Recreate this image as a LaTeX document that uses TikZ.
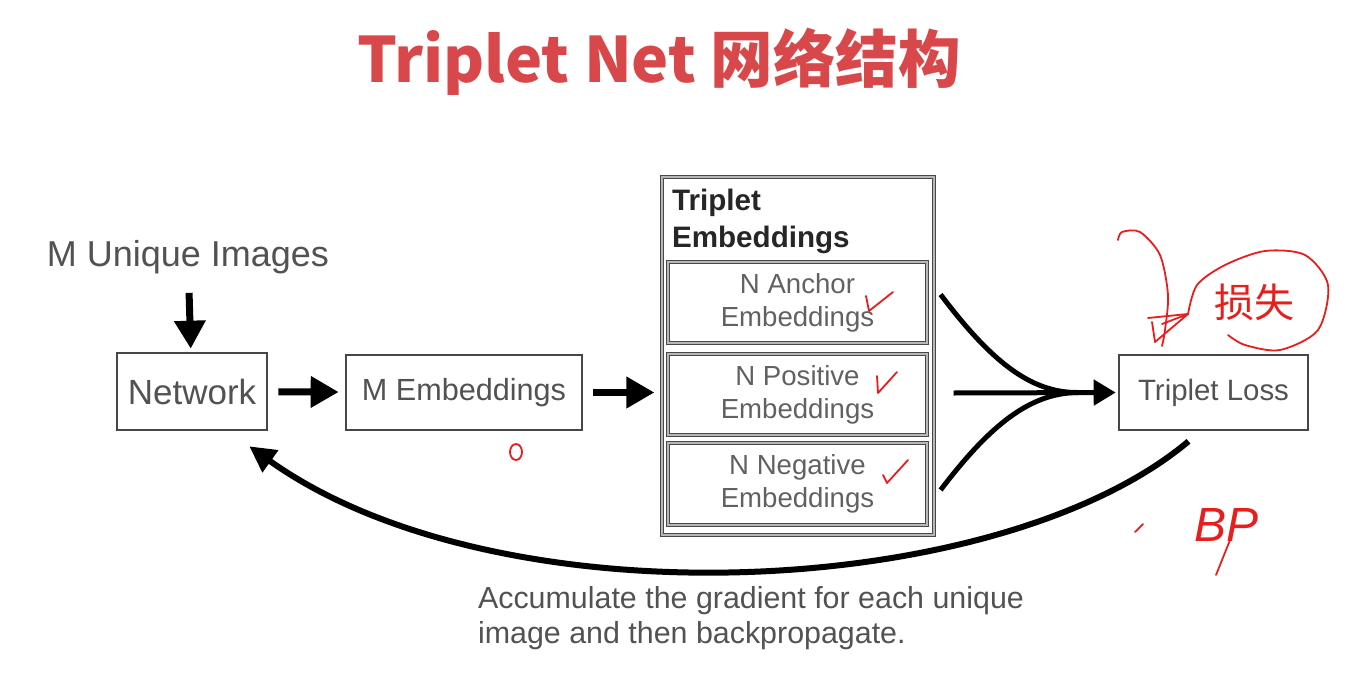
\documentclass[tikz,border=0pt]{standalone}
\usepackage{fontspec}
\setmainfont{Liberation Sans}
\newfontfamily\cjk{Noto Sans CJK SC}
\usetikzlibrary{arrows.meta,calc}
\definecolor{tred}{RGB}{216,72,75}
\definecolor{hred}{RGB}{232,30,28}
\begin{document}
\begin{tikzpicture}[x=0.5pt,y=-0.5pt,
  box/.style={draw=black!72,line width=1.3pt,text=black!68,inner sep=0pt,align=center},
  dbox/.style={draw=black!72,line width=0.6pt,double=black!28,double distance=0.7pt,inner sep=0pt,align=center,text=black!62},
  fat/.style={line width=3.5pt,-{Triangle[length=14pt,width=15pt]}},
  fan/.style={line width=2.5pt},
  hand/.style={hred,line width=0.9pt,line cap=round,line join=round},
  lbl/.style={text=black!68}]
\useasboundingbox (0,0) rectangle (1359,690);
% title
\node[font=\cjk\bfseries\fontsize{31.3}{36}\selectfont,text=tred] (title) at (659,62) {Triplet Net 网络结构};
% nodes
\node[lbl,font=\fontsize{18}{21}\selectfont] (mui) at (188,257) {M Unique Images};
\node[box,minimum width=75pt,minimum height=38.5pt,font=\fontsize{17.5}{20}\selectfont] (net) at (192,391.5) {Network};
\node[box,minimum width=118pt,minimum height=37.5pt,font=\fontsize{15.3}{18}\selectfont] (memb) at (464,392.5) {M Embeddings};
\node[dbox,minimum width=136pt,minimum height=179pt] (outer) at (798,356) {};
\node[anchor=west,align=left,font=\bfseries\fontsize{14.8}{18.5}\selectfont,text=black!85] (hdr) at (665,221) {Triplet\\Embeddings};
\node[dbox,minimum width=129.5pt,minimum height=40.5pt,font=\fontsize{13.8}{16.5}\selectfont] (anc) at (797.5,302.5) {N Anchor\\Embeddings};
\node[dbox,minimum width=129.5pt,minimum height=40.5pt,font=\fontsize{13.8}{16.5}\selectfont] (pos) at (797.5,394.5) {N Positive\\Embeddings};
\node[dbox,minimum width=129.5pt,minimum height=41pt,font=\fontsize{13.8}{16.5}\selectfont] (neg) at (797.5,484) {N Negative\\Embeddings};
\node[box,minimum width=94.5pt,minimum height=37.5pt,font=\fontsize{14.7}{18}\selectfont] (tl) at (1213.5,392.5) {Triplet Loss};
\node[lbl,anchor=west,align=left,font=\fontsize{15.2}{17.5}\selectfont] (cap) at (471,618) {Accumulate the gradient for each unique\\image and then backpropagate.};
% arrows
\draw[fat,shorten <=6pt,shorten >=1.5pt] (mui) -- (net);
\draw[fat,shorten <=5pt,shorten >=3pt] (net) -- (memb);
\draw[fat,shorten <=5pt,shorten >=3.5pt] (memb.east) -- (memb.east -| outer.west);
\coordinate (fa) at ($(anc.east)+(13,-8)$);
\coordinate (fp) at ($(pos.west -| anc.east)+(26,-1.5)$);
\coordinate (fn) at ($(neg.east)+(13,6)$);
\coordinate (fm) at ($(tl.west)+(-40,0)$);
\draw[fan] (fa) .. controls (990,360) and (1030,393) .. (fm);
\draw[fan] (fn) .. controls (990,425) and (1030,393) .. (fm);
\draw[fan,-{Triangle[length=11pt,width=12.5pt]},shorten >=1pt] (fp) -- (tl.west);
\coordinate (bs) at ($(tl.south)+(-25,10)$);
\coordinate (be) at ($(net.south east)+(-19,15)$);
\draw[line width=3pt,-{Triangle[length=13pt,width=13pt]}] (bs) .. controls (1000,600) and (500,625) .. (be);
% red handwriting
\draw[hand] (866,296) -- (869,311) -- (893,292);
\draw[hand] (877,376) -- (878,393) -- (897,372);
\draw[hand] (883,475) -- (887,483) -- (908,460);
\draw[hand] (516,452) ellipse [x radius=6, y radius=8];
\draw[hand] plot[smooth] coordinates {(1118,240) (1122,232) (1140,232) (1160,255) (1168,295) (1165,330) (1162,346)};
\draw[hand] (1148,318) -- (1188,314);
\draw[hand] (1152,322) -- (1155,342) -- (1188,314) -- (1162,324);
\draw[hand] plot[smooth] coordinates {(1188,314) (1197,285) (1225,265) (1265,251) (1305,255) (1328,285) (1318,330) (1280,350) (1245,345) (1228,335)};
\node[text=hred,font=\cjk\fontsize{20}{20}\selectfont] (sunshi) at (1254,302) {损失};
\node[text=hred,font=\itshape\fontsize{24}{24}\selectfont] (bp) at (1226,525) {BP};
\draw[hand] (1230,540) -- (1216,575);
\draw[hand] (1135,532) -- (1143,524);
\end{tikzpicture}
\end{document}
